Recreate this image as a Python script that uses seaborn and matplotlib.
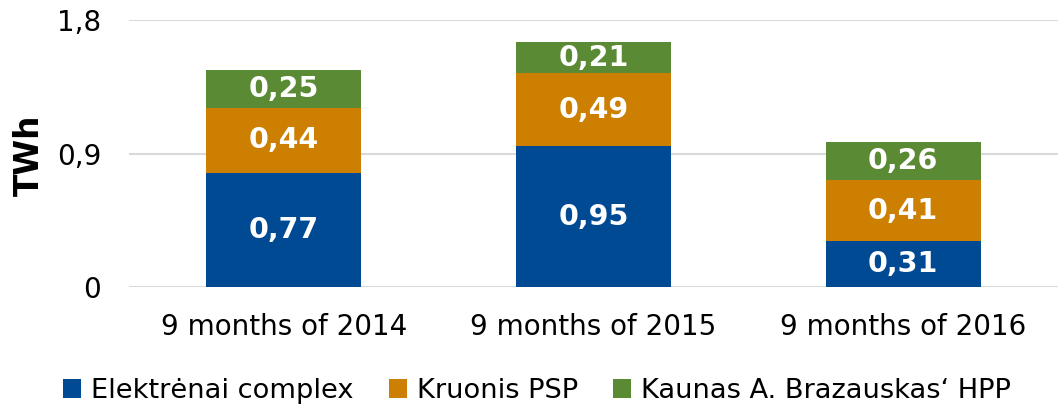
import matplotlib
matplotlib.use("Agg")
import matplotlib.pyplot as plt
import seaborn as sns
import pandas as pd
import numpy as np
from matplotlib.patches import Patch

categories = ["9 months of 2014", "9 months of 2015", "9 months of 2016"]
elektrenai = [0.77, 0.95, 0.31]
kruonis = [0.44, 0.49, 0.41]
kaunas = [0.25, 0.21, 0.26]
series_names = ["Elektrėnai complex", "Kruonis PSP", "Kaunas A. Brazauskas‘ HPP"]
colors = ["#004A94", "#CC7F00", "#5B8A35"]
yticks = [0, 0.9, 1.8]
ytick_labels = ["0", "0,9", "1,8"]

sns.set_theme(style="white")
plt.rcParams["font.family"] = ["DejaVu Sans"]
plt.rcParams["text.color"] = "black"

fig = plt.figure(figsize=(10.58, 4.09), dpi=100)
ax = fig.add_axes([129 / 1058, 1 - 287 / 409, (1058 - 129) / 1058, (287 - 20) / 409])

s1 = np.array(elektrenai)
s2 = s1 + np.array(kruonis)
s3 = s2 + np.array(kaunas)

df = pd.DataFrame({"cat": categories, "s1": s1, "s2": s2, "s3": s3})
for col, c in zip(["s3", "s2", "s1"], colors[::-1]):
    sns.barplot(data=df, x="cat", y=col, color=c, width=0.5, ax=ax,
                saturation=1, edgecolor="none", linewidth=0, zorder=3)

bottoms = [np.zeros(3), s1, s2]
for vals, bot in zip([elektrenai, kruonis, kaunas], bottoms):
    for i, (v, b) in enumerate(zip(vals, bot)):
        ax.text(i, b + v / 2, f"{v:.2f}".replace(".", ","), ha="center", va="center",
                color="white", fontsize=20.5, fontweight="bold", zorder=5)

ax.set_xlim(-0.5, 2.5)
ax.set_ylim(0, 1.8)
ax.set_yticks(yticks)
ax.set_yticklabels(ytick_labels)
ax.yaxis.grid(True, color="#D9D9D9", linewidth=1.5, zorder=0)
ax.set_axisbelow(True)
for sp in ax.spines.values():
    sp.set_visible(False)
ax.tick_params(axis="both", length=0, labelsize=20, colors="black")
ax.tick_params(axis="y", pad=20)
ax.tick_params(axis="x", pad=19)
ax.set_xlabel("")
ax.set_ylabel("")
fig.text(29 / 1058, 1 - 155 / 409, "TWh", rotation=90, fontsize=23.5, fontweight="bold",
         ha="center", va="center", color="black")

handles = [Patch(facecolor=c, edgecolor="none") for c in colors]
fig.legend(handles, series_names, loc="center", bbox_to_anchor=(537 / 1058, 1 - 391 / 409),
           ncol=3, frameon=False, fontsize=19.6, handlelength=0.66, handleheight=0.66,
           handletextpad=0.37, columnspacing=1.29, labelcolor="black")

fig.savefig("out.png", dpi=100)
